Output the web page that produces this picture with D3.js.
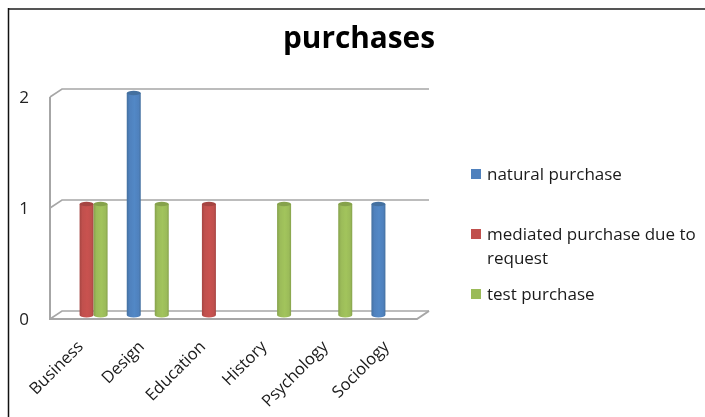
<!DOCTYPE html>
<html>
<head>
<meta charset="utf-8">
<script src="https://cdn.jsdelivr.net/npm/d3@7"></script>
<style>
    html, body {margin: 0; padding: 0; background: #fff;}
    svg {display: block; filter: blur(0.4px);}
    text {font-family: "Open Sans", "Noto Sans", sans-serif; fill: #1a1a1a;}
</style>
</head>
<body>
<div id="chart-area"></div>
<script>
// chart values
var categories = ["Business", "Design", "Education", "History", "Psychology", "Sociology"];
var seriesNames = ["natural purchase", "mediated purchase due to request", "test purchase"];
var naturalPurchase = [0, 2, 0, 0, 0, 1];
var mediatedPurchase = [1, 0, 1, 0, 0, 0];
var testPurchase = [1, 1, 0, 1, 1, 0];
var yTicks = [0, 1, 2];
var colors = ["#4f81bd", "#c0504d", "#9bbb59"];
var edgeColors = ["#44709f", "#a54542", "#86a24c"];
var lightColors = ["#5288c6", "#c9524f", "#a2c45c"];
var legendLines = [["natural purchase"], ["mediated purchase due to", "request"], ["test purchase"]];

var allSeries = [naturalPurchase, mediatedPurchase, testPurchase];
var depth = 6, rise = 4;

var svg = d3.select("#chart-area")
    .append("svg")
    .attr("width", 705)
    .attr("height", 417);

// frame, only top and left are visible
svg.append("rect").attr("width", 705).attr("height", 417).attr("fill", "#fff");
svg.append("line").attr("x1", 8).attr("x2", 705).attr("y1", 9).attr("y2", 9)
    .attr("stroke", "#555").attr("stroke-width", 2);
svg.append("line").attr("x1", 8.5).attr("x2", 8.5).attr("y1", 8).attr("y2", 417)
    .attr("stroke", "#111").attr("stroke-width", 1.5);

svg.append("text")
    .attr("x", 359)
    .attr("y", 48)
    .attr("text-anchor", "middle")
    .attr("font-size", "29.8px")
    .attr("font-weight", "bold")
    .style("fill", "#000")
    .text("purchases");

var x = d3.scaleBand()
    .domain(categories)
    .range([56, 423]);

var x1 = d3.scaleBand()
    .domain(d3.range(seriesNames.length))
    .range([x.bandwidth() / 2 - 21, x.bandwidth() / 2 + 21]);

var y = d3.scaleLinear()
    .domain([0, 2])
    .range([315, 93]);

var left = x.range()[0], right = x.range()[1];

var defs = svg.append("defs");
colors.forEach(function (c, i) {
    var grad = defs.append("linearGradient").attr("id", "cyl" + i);
    grad.append("stop").attr("offset", "0%").attr("stop-color", edgeColors[i]);
    grad.append("stop").attr("offset", "20%").attr("stop-color", c);
    grad.append("stop").attr("offset", "55%").attr("stop-color", lightColors[i]);
    grad.append("stop").attr("offset", "85%").attr("stop-color", c);
    grad.append("stop").attr("offset", "100%").attr("stop-color", edgeColors[i]);
});

// walls: gridlines with the short slanted piece on the left
yTicks.forEach(function (t) {
    var yy = y(t);
    var pts = [[left - depth, yy + rise], [left + depth, yy - rise], [right + depth, yy - rise]];
    svg.append("path")
        .attr("d", d3.line()(pts))
        .attr("fill", "none")
        .attr("stroke", "#a6a6a6")
        .attr("stroke-width", 1.6);
});

// left edge and floor
svg.append("path")
    .attr("d", d3.line()([[left - depth, y(2) + rise], [left - depth, y(0) + rise],
        [right - depth, y(0) + rise], [right + depth, y(0) - rise]]))
    .attr("fill", "none")
    .attr("stroke", "#a6a6a6")
    .attr("stroke-width", 2);

// cylinders
allSeries.forEach(function (values, i) {
    var g = svg.append("g");
    var barW = x1.bandwidth();
    categories.forEach(function (cat, k) {
        if (values[k] == 0) return;
        var bx = x(cat) + x1(i);
        var top = y(values[k]), bottom = y(0);
        g.append("path")
            .attr("d", "M" + bx + "," + top +
                "L" + bx + "," + bottom +
                "A" + barW / 2 + ",2.5 0 0 0 " + (bx + barW) + "," + bottom +
                "L" + (bx + barW) + "," + top + "Z")
            .attr("fill", "url(#cyl" + i + ")");
        g.append("ellipse")
            .attr("cx", bx + barW / 2)
            .attr("cy", top)
            .attr("rx", barW / 2)
            .attr("ry", 2.2)
            .attr("fill", edgeColors[i]);
    });
});

// Y Axis
var yAxisCall = d3.axisLeft(y)
    .tickValues(yTicks)
    .tickSize(0)
    .tickFormat(d3.format("d"));
var yAxis = svg.append("g")
    .attr("transform", "translate(29," + (rise) + ")")
    .call(yAxisCall);
yAxis.select(".domain").remove();
yAxis.selectAll("text")
    .attr("font-size", "17px")
    .attr("font-family", null)
    .style("fill", "#222")
    .attr("x", 0);

// X Axis
var xAxisCall = d3.axisBottom(x).tickSize(0);
var xAxis = svg.append("g")
    .attr("transform", "translate(-13,337)")
    .call(xAxisCall);
xAxis.select(".domain").remove();
xAxis.selectAll("text")
    .attr("font-size", "16.5px")
    .attr("font-family", null)
    .attr("text-anchor", "end")
    .attr("x", 0)
    .attr("y", 0)
    .attr("dy", "0.9em")
    .attr("transform", "rotate(-45)");

// legend
var legendY = [174, 234, 294];
legendLines.forEach(function (lines, i) {
    svg.append("rect")
        .attr("x", 471)
        .attr("y", legendY[i] - 5)
        .attr("width", 10)
        .attr("height", 10)
        .attr("fill", colors[i]);
    lines.forEach(function (line, j) {
        svg.append("text")
            .attr("x", 487)
            .attr("y", legendY[i] + 6 + j * 24)
            .attr("font-size", "17px")
            .text(line);
    });
});
</script>
</body>
</html>
